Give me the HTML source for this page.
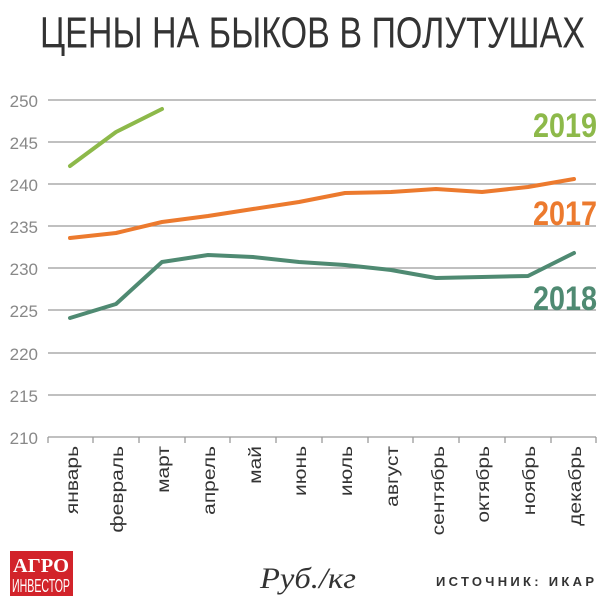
<!DOCTYPE html>
<html><head><meta charset="utf-8"><style>
html,body{margin:0;padding:0;background:#fff;}
svg{display:block;}
</style></head><body>
<svg width="600" height="598" xmlns="http://www.w3.org/2000/svg" font-family="'Liberation Sans',sans-serif">
<text x="40" y="47" font-size="40" fill="#333" textLength="545" lengthAdjust="spacingAndGlyphs" transform="translate(0,-4) scale(1,1.1)">ЦЕНЫ НА БЫКОВ В ПОЛУТУШАХ</text>
<g stroke="#9a9a9a" stroke-width="1.3">
<line x1="48" x2="596" y1="100" y2="100"/>
<line x1="48" x2="596" y1="142" y2="142"/>
<line x1="48" x2="596" y1="184" y2="184"/>
<line x1="48" x2="596" y1="226" y2="226"/>
<line x1="48" x2="596" y1="268" y2="268"/>
<line x1="48" x2="596" y1="310" y2="310"/>
<line x1="48" x2="596" y1="353" y2="353"/>
<line x1="48" x2="596" y1="395" y2="395"/>
<line x1="48" x2="596" y1="437" y2="437"/>
<line x1="48" x2="48" y1="437" y2="443"/>
<line x1="93" x2="93" y1="437" y2="443"/>
<line x1="139" x2="139" y1="437" y2="443"/>
<line x1="185" x2="185" y1="437" y2="443"/>
<line x1="230" x2="230" y1="437" y2="443"/>
<line x1="276" x2="276" y1="437" y2="443"/>
<line x1="322" x2="322" y1="437" y2="443"/>
<line x1="368" x2="368" y1="437" y2="443"/>
<line x1="413" x2="413" y1="437" y2="443"/>
<line x1="459" x2="459" y1="437" y2="443"/>
<line x1="505" x2="505" y1="437" y2="443"/>
<line x1="551" x2="551" y1="437" y2="443"/>
<line x1="596" x2="596" y1="437" y2="443"/>
</g>
<g font-size="17" fill="#888" text-anchor="end">
<text x="38" y="107">250</text><text x="38" y="149">245</text><text x="38" y="191">240</text>
<text x="38" y="233">235</text><text x="38" y="275">230</text><text x="38" y="317">225</text>
<text x="38" y="360">220</text><text x="38" y="402">215</text><text x="38" y="444">210</text>
</g>
<g font-size="21" fill="#333" text-anchor="end">
<text transform="translate(78,446) rotate(-90) scale(1,0.85)">январь</text>
<text transform="translate(123,446) rotate(-90) scale(1,0.85)">февраль</text>
<text transform="translate(169,446) rotate(-90) scale(1,0.85)">март</text>
<text transform="translate(215,446) rotate(-90) scale(1,0.85)">апрель</text>
<text transform="translate(261,446) rotate(-90) scale(1,0.85)">май</text>
<text transform="translate(306,446) rotate(-90) scale(1,0.85)">июнь</text>
<text transform="translate(352,446) rotate(-90) scale(1,0.85)">июль</text>
<text transform="translate(398,446) rotate(-90) scale(1,0.85)">август</text>
<text transform="translate(444,446) rotate(-90) scale(1,0.85)">сентябрь</text>
<text transform="translate(489,446) rotate(-90) scale(1,0.85)">октябрь</text>
<text transform="translate(535,446) rotate(-90) scale(1,0.85)">ноябрь</text>
<text transform="translate(581,446) rotate(-90) scale(1,0.85)">декабрь</text>
</g>
<g fill="none" stroke-width="4" stroke-linejoin="round" stroke-linecap="round">
<polyline stroke="#8db94a" points="70,166 116,132 162,109"/>
<polyline stroke="#ec7a2e" points="70,238 116,233 162,222 208,216 253,209 299,202 345,193 391,192 436,189 482,192 528,187 574,179"/>
<polyline stroke="#4f8a72" points="70,318 116,304 162,262 208,255 253,257 299,262 345,265 391,270 436,278 482,277 528,276 574,253"/>
</g>
<g font-size="34" font-weight="bold" text-anchor="start">
<text x="533" y="137" fill="#8db94a" textLength="64" lengthAdjust="spacingAndGlyphs">2019</text>
<text x="533" y="225" fill="#ec7a2e" textLength="64" lengthAdjust="spacingAndGlyphs">2017</text>
<text x="533" y="310" fill="#4f8a72" textLength="64" lengthAdjust="spacingAndGlyphs">2018</text>
</g>
<rect x="10" y="551" width="63" height="45" fill="#d2232a"/>
<text x="41" y="572" font-family="'Liberation Serif',serif" font-weight="bold" font-size="20" fill="#fff" text-anchor="middle" textLength="56" lengthAdjust="spacingAndGlyphs">АГРО</text>
<text x="41" y="592" font-size="18" fill="#fff" text-anchor="middle" textLength="58" lengthAdjust="spacingAndGlyphs">ИНВЕСТОР</text>
<text x="260" y="588" font-family="'Liberation Serif',serif" font-style="italic" font-size="30" fill="#333" textLength="96" lengthAdjust="spacingAndGlyphs">Руб./кг</text>
<text x="436" y="586" font-family="'Liberation Sans',sans-serif" font-weight="bold" font-size="13" fill="#333" textLength="158" lengthAdjust="spacing">ИСТОЧНИК: ИКАР</text>
</svg>
</body></html>
